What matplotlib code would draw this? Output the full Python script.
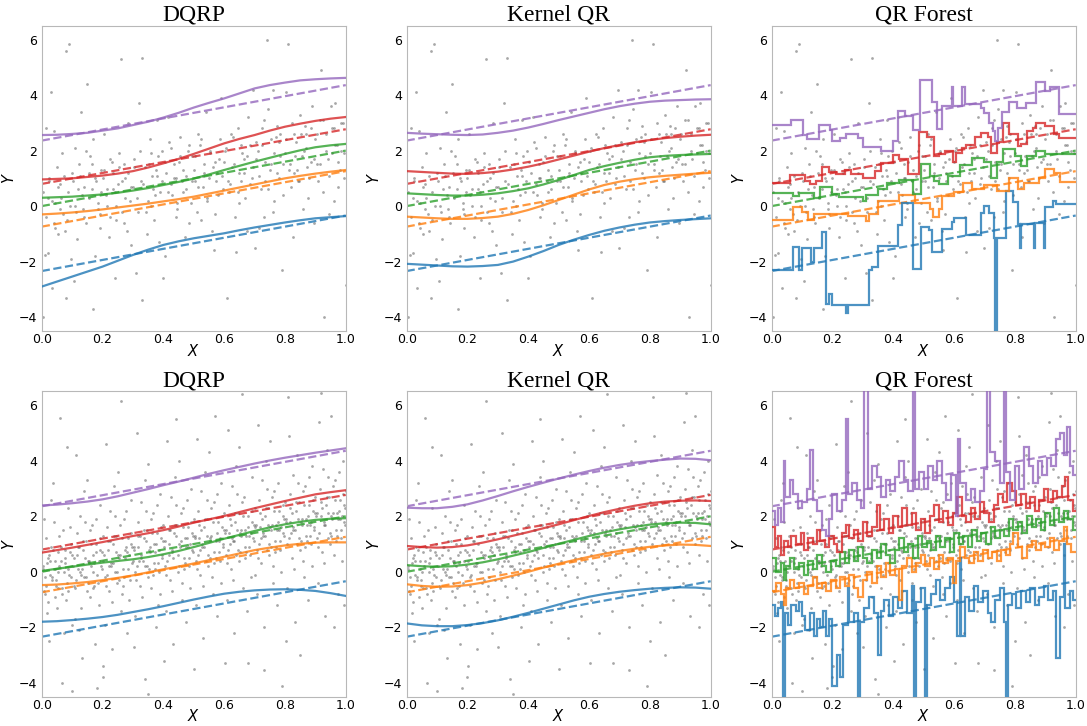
import matplotlib.pyplot as plt

colors = ['tab:blue', 'tab:orange', 'tab:green', 'tab:red', 'tab:purple']

# true quantile lines (straight), value at x=0 and x=1
true_at0 = [-2.34, -0.74, 0.0, 0.80, 2.36]
true_at1 = [-0.34, 1.26, 2.0, 2.77, 4.36]

curve_x = [0.0, 0.05, 0.1, 0.15, 0.2, 0.25, 0.3, 0.35, 0.4, 0.45, 0.5,
           0.55, 0.6, 0.65, 0.7, 0.75, 0.8, 0.85, 0.9, 0.95, 1.0]

# estimated curves, order: blue, orange, green, red, purple
dqrp_top = [
    [-2.90, -2.72, -2.54, -2.36, -2.18, -1.97, -1.76, -1.57, -1.40, -1.27, -1.16,
     -1.07, -0.98, -0.87, -0.77, -0.68, -0.59, -0.51, -0.44, -0.40, -0.36],
    [-0.30, -0.27, -0.23, -0.18, -0.12, -0.05, 0.02, 0.09, 0.17, 0.25, 0.34,
     0.45, 0.56, 0.67, 0.78, 0.89, 1.00, 1.09, 1.17, 1.24, 1.30],
    [0.30, 0.32, 0.34, 0.38, 0.42, 0.48, 0.56, 0.65, 0.76, 0.87, 0.99,
     1.14, 1.30, 1.45, 1.60, 1.74, 1.88, 2.01, 2.12, 2.19, 2.24],
    [0.96, 0.98, 1.00, 1.05, 1.10, 1.17, 1.26, 1.39, 1.54, 1.70, 1.88,
     2.07, 2.26, 2.42, 2.56, 2.72, 2.86, 2.97, 3.07, 3.15, 3.21],
    [2.56, 2.57, 2.60, 2.64, 2.72, 2.80, 2.92, 3.04, 3.19, 3.36, 3.55,
     3.72, 3.88, 4.06, 4.24, 4.36, 4.45, 4.53, 4.57, 4.60, 4.62],
]
kernel_top = [
    [-2.08, -2.11, -2.14, -2.17, -2.18, -2.16, -2.12, -2.00, -1.82, -1.62, -1.40,
     -1.21, -1.04, -0.89, -0.77, -0.67, -0.59, -0.54, -0.50, -0.47, -0.44],
    [-0.38, -0.41, -0.44, -0.46, -0.46, -0.43, -0.38, -0.28, -0.14, 0.03, 0.22,
     0.41, 0.60, 0.76, 0.88, 0.97, 1.04, 1.09, 1.13, 1.17, 1.20],
    [0.46, 0.43, 0.40, 0.38, 0.38, 0.41, 0.46, 0.54, 0.64, 0.78, 0.94,
     1.12, 1.30, 1.44, 1.56, 1.67, 1.76, 1.81, 1.84, 1.86, 1.88],
    [1.26, 1.23, 1.20, 1.17, 1.16, 1.19, 1.24, 1.32, 1.42, 1.54, 1.68,
     1.82, 1.96, 2.09, 2.20, 2.30, 2.38, 2.45, 2.50, 2.54, 2.57],
    [2.64, 2.61, 2.59, 2.57, 2.56, 2.58, 2.64, 2.72, 2.83, 2.96, 3.10,
     3.23, 3.36, 3.49, 3.60, 3.69, 3.76, 3.80, 3.82, 3.84, 3.85],
]
dqrp_bottom = [
    [-1.80, -1.78, -1.74, -1.69, -1.63, -1.55, -1.45, -1.35, -1.24, -1.12, -1.00,
     -0.89, -0.79, -0.72, -0.67, -0.64, -0.63, -0.65, -0.69, -0.77, -0.87],
    [-0.48, -0.46, -0.42, -0.37, -0.30, -0.22, -0.13, -0.02, 0.09, 0.19, 0.30,
     0.42, 0.54, 0.66, 0.78, 0.87, 0.95, 1.01, 1.05, 1.06, 1.06],
    [0.03, 0.11, 0.18, 0.26, 0.33, 0.39, 0.45, 0.53, 0.63, 0.75, 0.89,
     1.04, 1.19, 1.33, 1.47, 1.60, 1.71, 1.80, 1.87, 1.91, 1.93],
    [0.69, 0.78, 0.87, 0.97, 1.07, 1.18, 1.29, 1.39, 1.50, 1.63, 1.77,
     1.89, 2.01, 2.15, 2.29, 2.42, 2.55, 2.67, 2.79, 2.87, 2.94],
    [2.39, 2.42, 2.47, 2.53, 2.61, 2.72, 2.85, 2.98, 3.12, 3.25, 3.39,
     3.53, 3.66, 3.78, 3.90, 4.01, 4.11, 4.20, 4.29, 4.37, 4.45],
]
kernel_bottom = [
    [-1.86, -1.93, -1.96, -1.96, -1.92, -1.85, -1.75, -1.62, -1.48, -1.33, -1.18,
     -1.03, -0.90, -0.80, -0.72, -0.66, -0.61, -0.58, -0.56, -0.57, -0.61],
    [-0.45, -0.51, -0.54, -0.53, -0.48, -0.39, -0.27, -0.14, 0.00, 0.15, 0.29,
     0.42, 0.54, 0.65, 0.75, 0.83, 0.90, 0.95, 0.98, 0.97, 0.93],
    [0.24, 0.20, 0.18, 0.20, 0.26, 0.34, 0.45, 0.58, 0.71, 0.86, 1.01,
     1.15, 1.29, 1.42, 1.53, 1.62, 1.70, 1.75, 1.77, 1.76, 1.71],
    [0.93, 0.89, 0.87, 0.89, 0.95, 1.05, 1.17, 1.30, 1.43, 1.57, 1.71,
     1.86, 2.01, 2.15, 2.27, 2.38, 2.47, 2.53, 2.56, 2.57, 2.55],
    [2.31, 2.29, 2.29, 2.34, 2.43, 2.57, 2.73, 2.90, 3.06, 3.21, 3.36,
     3.50, 3.63, 3.75, 3.85, 3.93, 3.99, 4.04, 4.08, 4.07, 4.02],
]

# QR forest step functions: (start x, value)
forest_top = [
    [(0, -2.32), (0.07, -1.48), (0.09, -2.3), (0.1, -1.5), (0.13, -2.0), (0.14, -1.5),
     (0.165, -0.95), (0.18, -3.52), (0.19, -3.17), (0.2, -3.56), (0.245, -3.85),
     (0.252, -3.56), (0.32, -2.3), (0.33, -2.2), (0.35, -1.43), (0.415, -0.68),
     (0.43, 0.12), (0.464, -2.25), (0.49, -0.75), (0.516, -0.85), (0.527, -1.64),
     (0.56, -0.84), (0.594, -0.56), (0.6, -0.44), (0.64, -1.04), (0.687, -0.25),
     (0.70, 0.0), (0.715, -0.25), (0.73, -1.15), (0.734, -4.6), (0.74, -1.15),
     (0.77, 0.54), (0.795, 0.15), (0.81, -0.64), (0.816, -1.5), (0.821, -0.64),
     (0.862, -1.5), (0.867, -0.6), (0.895, -1.5), (0.899, -0.02), (0.924, 0.19),
     (0.935, 0.07)],
    [(0, -0.5), (0.07, -0.04), (0.1, -0.2), (0.12, -0.5), (0.14, -0.3), (0.2, -0.28),
     (0.25, -0.35), (0.31, -0.55), (0.32, -0.3), (0.35, 0.2), (0.42, 0.4), (0.47, 0.1),
     (0.52, -0.1), (0.53, -0.4), (0.55, -0.1), (0.56, 0.35), (0.6, 0.5), (0.63, 0.82),
     (0.66, 0.6), (0.7, 0.75), (0.74, 0.55), (0.78, 1.0), (0.81, 0.6), (0.83, 0.85),
     (0.88, 1.0), (0.9, 1.32), (0.93, 1.2), (0.95, 0.88)],
    [(0, 0.48), (0.07, 0.35), (0.09, 0.48), (0.14, 0.3), (0.16, 0.68), (0.2, 0.45),
     (0.22, 0.34), (0.3, 0.2), (0.31, 0.4), (0.35, 0.6), (0.38, 0.82), (0.42, 0.93),
     (0.465, 0.45), (0.49, 1.5), (0.52, 1.1), (0.535, 0.9), (0.55, 0.8), (0.58, 1.1),
     (0.62, 1.48), (0.66, 1.72), (0.7, 1.6), (0.72, 1.0), (0.74, 1.6), (0.76, 2.04),
     (0.8, 1.8), (0.82, 1.45), (0.84, 1.8), (0.87, 2.0), (0.9, 1.88)],
    [(0, 0.84), (0.06, 1.12), (0.11, 0.92), (0.125, 0.78), (0.145, 0.92), (0.165, 1.42),
     (0.19, 1.22), (0.21, 1.15), (0.24, 1.3), (0.26, 1.16), (0.3, 1.0), (0.34, 1.25),
     (0.36, 1.55), (0.4, 1.84), (0.42, 1.7), (0.45, 1.15), (0.485, 2.68), (0.51, 2.5),
     (0.535, 1.8), (0.55, 1.88), (0.57, 2.0), (0.595, 1.6), (0.605, 1.9), (0.625, 2.1),
     (0.64, 2.2), (0.67, 2.5), (0.69, 2.62), (0.71, 2.5), (0.72, 1.9), (0.74, 2.3),
     (0.76, 3.0), (0.78, 2.6), (0.81, 2.15), (0.82, 2.25), (0.84, 2.7), (0.86, 2.8),
     (0.87, 2.98), (0.90, 2.9), (0.93, 2.6), (0.945, 2.44)],
    [(0, 2.92), (0.063, 3.1), (0.102, 2.56), (0.115, 2.4), (0.157, 2.94), (0.192, 2.74),
     (0.2, 2.35), (0.225, 2.45), (0.243, 2.6), (0.283, 2.45), (0.3, 2.14), (0.36, 1.99),
     (0.40, 2.35), (0.417, 3.42), (0.44, 3.25), (0.465, 2.74), (0.489, 4.56),
     (0.527, 3.76), (0.545, 2.76), (0.56, 3.62), (0.592, 4.3), (0.598, 3.62),
     (0.626, 4.3), (0.637, 3.68), (0.687, 3.55), (0.70, 3.35), (0.715, 3.0),
     (0.728, 2.7), (0.736, 2.35), (0.745, 2.8), (0.757, 3.4), (0.78, 3.75),
     (0.808, 3.55), (0.835, 3.7), (0.868, 4.47), (0.898, 4.15), (0.917, 4.3),
     (0.945, 3.33)],
]

forest_bottom = [
    [(0, -1.2), (0.01, -1.6), (0.02, -1.3), (0.03, -1.1), (0.038, -4.6), (0.044, -1.5),
     (0.055, -1.9), (0.065, -1.2), (0.08, -1.4), (0.09, -1.1), (0.1, -1.6), (0.11, -2.1),
     (0.125, -1.5), (0.14, -2.3), (0.15, -1.7), (0.16, -2.0), (0.17, -1.4), (0.18, -2.3),
     (0.19, -1.7), (0.2, -4.1), (0.215, -3.0), (0.225, -3.8), (0.235, -1.9), (0.25, -0.6),
     (0.256, -1.8), (0.27, -1.5), (0.285, -4.6), (0.29, -1.8), (0.305, -1.3), (0.32, -0.9),
     (0.335, -1.5), (0.35, -3.0), (0.358, -1.4), (0.37, -1.0), (0.385, -1.6), (0.4, -0.9),
     (0.415, -1.3), (0.43, -0.7), (0.445, -1.5), (0.46, -0.5), (0.468, -4.6), (0.474, -1.1),
     (0.49, -0.6), (0.505, -4.6), (0.51, -1.2), (0.525, -0.8), (0.54, -0.3), (0.555, -1.0),
     (0.57, -0.6), (0.585, -0.2), (0.6, -1.1), (0.61, -2.3), (0.618, 0.5), (0.623, -2.3),
     (0.635, -0.9), (0.65, -1.4), (0.665, -0.5), (0.68, -1.1), (0.695, -0.7), (0.71, -1.5),
     (0.72, -1.8), (0.735, -1.0), (0.75, -0.6), (0.765, -1.8), (0.772, -4.6), (0.778, -1.2),
     (0.79, -0.8), (0.805, -1.3), (0.82, -0.7), (0.835, -1.1), (0.85, -0.6), (0.865, -1.2),
     (0.88, -0.9), (0.895, -0.5), (0.91, -1.0), (0.925, -0.7), (0.935, -3.1), (0.95, -0.9),
     (0.96, 1.0), (0.965, -1.3), (0.98, -0.7), (0.99, -1.0)],
    [(0, -0.7), (0.015, -0.4), (0.03, -0.8), (0.04, -1.2), (0.048, -0.6), (0.06, -0.3),
     (0.075, -0.6), (0.09, -0.4), (0.105, -0.8), (0.12, -0.5), (0.135, -0.2), (0.15, -0.6),
     (0.165, -0.4), (0.18, -0.7), (0.195, -0.3), (0.21, -0.6), (0.225, -0.2), (0.24, -0.5),
     (0.255, -0.1), (0.27, -0.6), (0.285, -0.9), (0.3, -0.3), (0.315, 0.0), (0.33, -0.4),
     (0.345, 0.2), (0.36, -0.2), (0.375, 0.3), (0.39, -0.1), (0.405, 0.1), (0.42, -1.0),
     (0.43, 0.2), (0.445, 0.5), (0.46, 0.0), (0.475, 0.3), (0.49, 0.6), (0.505, 0.2),
     (0.52, 0.5), (0.535, 0.1), (0.55, 0.6), (0.565, 0.3), (0.58, 0.5), (0.595, -0.4),
     (0.605, 0.4), (0.62, 0.9), (0.635, 0.5), (0.65, 0.3), (0.665, 0.7), (0.68, 0.4),
     (0.695, 0.8), (0.71, 0.5), (0.725, 0.7), (0.74, 0.4), (0.755, 0.8), (0.77, 0.6),
     (0.785, 1.0), (0.795, 1.4), (0.81, 0.9), (0.825, 0.5), (0.84, 0.9), (0.855, 1.1),
     (0.87, 0.8), (0.885, 1.0), (0.9, 0.9), (0.915, 1.2), (0.93, 0.8), (0.945, 1.1),
     (0.96, 1.6), (0.972, 1.0), (0.985, 0.7)],
    [(0, 0.5), (0.015, 0.0), (0.03, 0.3), (0.04, -0.3), (0.048, 0.2), (0.06, 0.5),
     (0.075, 0.1), (0.09, 0.3), (0.105, -0.1), (0.12, 0.4), (0.135, 0.1), (0.15, 0.6),
     (0.165, 0.2), (0.18, 0.0), (0.195, 0.4), (0.21, 0.2), (0.225, 0.7), (0.24, 0.3),
     (0.255, 0.8), (0.27, 0.4), (0.285, 0.9), (0.3, 0.5), (0.315, 0.3), (0.33, 0.8),
     (0.345, 0.5), (0.36, 1.0), (0.375, 0.6), (0.39, 0.3), (0.405, 0.8), (0.42, 1.2),
     (0.435, 0.7), (0.45, 1.0), (0.465, 0.5), (0.48, 1.3), (0.495, 0.9), (0.51, 1.1),
     (0.525, 0.8), (0.54, 1.3), (0.555, 0.9), (0.57, 1.2), (0.585, 0.7), (0.6, 1.4),
     (0.615, 1.0), (0.63, 1.3), (0.645, 0.9), (0.66, 1.5), (0.675, 1.1), (0.69, 1.4),
     (0.705, 1.0), (0.72, 1.6), (0.735, 1.2), (0.75, 1.5), (0.765, 1.3), (0.78, 1.9),
     (0.795, 1.5), (0.81, 1.8), (0.825, 1.4), (0.84, 2.0), (0.855, 1.6), (0.87, 1.9),
     (0.885, 1.5), (0.9, 2.1), (0.915, 1.7), (0.93, 2.3), (0.945, 1.8), (0.96, 2.2),
     (0.975, 1.9), (0.99, 1.5)],
    [(0, 1.6), (0.01, 0.9), (0.02, 1.3), (0.03, 0.6), (0.04, 1.1), (0.055, 0.9),
     (0.065, 1.3), (0.08, 1.0), (0.095, 1.4), (0.105, 0.8), (0.12, 1.2), (0.135, 1.0),
     (0.15, 1.5), (0.16, 1.1), (0.175, 0.9), (0.19, 1.3), (0.205, 1.0), (0.215, 0.7),
     (0.23, 1.4), (0.245, 1.7), (0.255, 1.2), (0.27, 1.5), (0.285, 1.1), (0.3, 1.8),
     (0.315, 1.3), (0.33, 1.6), (0.345, 2.4), (0.355, 1.5), (0.37, 1.9), (0.385, 1.4),
     (0.4, 2.0), (0.415, 1.6), (0.43, 2.3), (0.445, 1.7), (0.46, 2.1), (0.475, 1.5),
     (0.49, 1.9), (0.505, 1.4), (0.52, 2.0), (0.535, 2.4), (0.55, 1.8), (0.565, 2.2),
     (0.58, 1.7), (0.595, 2.1), (0.61, 2.7), (0.625, 2.0), (0.64, 1.8), (0.655, 2.3),
     (0.67, 1.9), (0.685, 2.5), (0.7, 2.1), (0.715, 1.8), (0.73, 2.4), (0.745, 2.8),
     (0.76, 2.5), (0.775, 3.2), (0.79, 2.9), (0.805, 2.4), (0.82, 2.8), (0.835, 2.3),
     (0.85, 2.7), (0.865, 2.2), (0.88, 2.6), (0.895, 3.0), (0.91, 2.5), (0.925, 2.9),
     (0.94, 2.7), (0.955, 3.1), (0.965, 3.4), (0.975, 2.6), (0.99, 2.2)],
    [(0, 2.2), (0.01, 1.7), (0.02, 2.3), (0.03, 1.8), (0.04, 4.0), (0.045, 2.7),
     (0.06, 3.3), (0.07, 2.8), (0.085, 2.3), (0.1, 2.5), (0.115, 3.0), (0.125, 4.4),
     (0.135, 2.6), (0.15, 2.2), (0.165, 1.5), (0.18, 1.3), (0.19, 1.9), (0.2, 2.8),
     (0.215, 2.2), (0.23, 2.6), (0.245, 5.5), (0.25, 2.8), (0.265, 3.2), (0.28, 2.6),
     (0.295, 2.3), (0.305, 7.0), (0.318, 3.0), (0.33, 3.8), (0.345, 3.4), (0.36, 2.7),
     (0.375, 3.3), (0.39, 2.9), (0.405, 3.4), (0.42, 4.0), (0.435, 3.3), (0.45, 2.9),
     (0.465, 7.0), (0.472, 3.0), (0.485, 3.6), (0.5, 3.0), (0.515, 3.8), (0.53, 3.3),
     (0.545, 4.0), (0.56, 3.2), (0.575, 2.6), (0.59, 3.5), (0.605, 2.0), (0.612, 4.8),
     (0.62, 3.2), (0.64, 2.6), (0.655, 3.0), (0.67, 2.5), (0.685, 2.9), (0.7, 3.7),
     (0.707, 7.0), (0.718, 4.3), (0.735, 4.0), (0.75, 3.2), (0.765, 6.5), (0.772, 3.6),
     (0.785, 2.6), (0.8, 3.8), (0.815, 3.0), (0.83, 4.5), (0.845, 3.8), (0.86, 3.2),
     (0.875, 4.0), (0.89, 3.5), (0.905, 4.1), (0.92, 3.8), (0.935, 4.8), (0.95, 5.0),
     (0.96, 4.2), (0.97, 5.2), (0.98, 3.8), (0.99, 3.5)],
]

# observed samples for the top row
top_points = [
    (0.01, -1.75), (0.02, 0.3), (0.03, 4.1), (0.04, -0.6), (0.05, 1.4), (0.06, 0.8), (0.07, -0.3),
    (0.08, 5.6), (0.09, 5.85), (0.02, -1.7), (0.035, -2.95), (0.005, -4.0), (0.045, 0.1),
    (0.055, -1.0), (0.065, 1.9), (0.075, -0.9), (0.085, 0.5), (0.095, -1.9), (0.015, 2.8),
    (0.025, 0.9), (0.06, -0.1), (0.08, -3.3), (0.1, 1.2), (0.04, 2.7),
    (0.004, 0.5), (0.014, -0.4), (0.024, 1.0), (0.034, 0.2), (0.044, -0.8), (0.054, 0.7),
    (0.064, 0.3), (0.074, 1.1), (0.084, -0.5), (0.094, 0.0),
    (0.105, -2.7), (0.11, 2.1), (0.12, 0.6), (0.13, 3.4), (0.14, -0.4), (0.15, 4.4), (0.16, 1.8),
    (0.17, -3.7), (0.18, 0.9), (0.19, -0.8), (0.115, -1.2), (0.125, 1.1), (0.135, -0.1),
    (0.145, 2.0), (0.155, 0.3), (0.165, 1.5), (0.175, -1.8), (0.185, 0.1), (0.195, 1.3),
    (0.11, 0.0), (0.14, 0.7), (0.17, 2.4), (0.19, -0.3),
    (0.104, 0.9), (0.114, -0.2), (0.124, 1.5), (0.134, 0.4), (0.144, -0.6), (0.154, 1.2),
    (0.164, 0.6), (0.174, 1.0), (0.184, -0.1), (0.194, 0.5),
    (0.2, 1.0), (0.21, 0.4), (0.22, -1.1), (0.23, 1.6), (0.24, -2.6), (0.25, 0.8), (0.26, 5.3),
    (0.27, 1.5), (0.28, -0.9), (0.29, 0.2), (0.205, 2.6), (0.215, 0.6), (0.225, -0.4),
    (0.235, 1.2), (0.245, 0.0), (0.255, 1.9), (0.265, -0.2), (0.275, 1.0), (0.285, 3.0),
    (0.295, -1.4), (0.24, 0.5), (0.27, -0.6),
    (0.204, 1.3), (0.214, 0.0), (0.224, 1.7), (0.234, 0.6), (0.244, -0.5), (0.254, 1.4),
    (0.264, 0.9), (0.274, 0.3), (0.284, 1.2), (0.294, 0.7),
    (0.3, 0.7), (0.31, -2.4), (0.32, 3.7), (0.33, 5.35), (0.33, -3.4), (0.34, 1.4), (0.35, 0.2),
    (0.36, 1.9), (0.37, -0.5), (0.38, 1.1), (0.39, 0.5), (0.305, 1.7), (0.315, -0.2),
    (0.325, 0.9), (0.345, -1.0), (0.355, 2.4), (0.365, 0.6), (0.375, 1.3), (0.385, -1.3),
    (0.395, 2.0), (0.36, 0.0), (0.38, 3.1),
    (0.304, 1.4), (0.314, 0.3), (0.324, 2.0), (0.334, 0.8), (0.344, -0.2), (0.354, 1.5),
    (0.364, 1.1), (0.374, 0.4), (0.384, 1.8), (0.394, 0.9),
    (0.4, -2.6), (0.41, 1.2), (0.42, 2.3), (0.43, 0.4), (0.44, -0.4), (0.45, 1.6), (0.46, 0.9),
    (0.47, -1.1), (0.48, 2.0), (0.49, 0.1), (0.405, -1.8), (0.415, 3.2), (0.425, 0.8),
    (0.435, 1.5), (0.445, -0.1), (0.455, 2.5), (0.465, 0.5), (0.475, 1.1), (0.485, -0.6),
    (0.495, 1.8), (0.44, 1.0),
    (0.404, 1.6), (0.414, 0.5), (0.424, 2.1), (0.434, 1.0), (0.444, 0.1), (0.454, 1.8),
    (0.464, 1.3), (0.474, 0.6), (0.484, 2.2), (0.494, 0.9),
    (0.5, 1.3), (0.51, -0.2), (0.52, 2.2), (0.53, 0.7), (0.54, 3.4), (0.55, 1.0), (0.56, -0.9),
    (0.57, 1.6), (0.58, 0.4), (0.59, 3.9), (0.505, 0.9), (0.515, 2.6), (0.525, -0.5),
    (0.535, 1.5), (0.545, 0.2), (0.555, 1.9), (0.565, -1.6), (0.575, 1.2), (0.585, 2.4),
    (0.595, 0.6), (0.53, 1.1), (0.57, -0.3),
    (0.504, 1.8), (0.514, 0.7), (0.524, 2.4), (0.534, 1.2), (0.544, 0.3), (0.554, 2.0),
    (0.564, 1.4), (0.574, 0.9), (0.584, 1.7), (0.594, 1.1),
    (0.6, 1.6), (0.61, -3.3), (0.62, 0.8), (0.63, 2.5), (0.64, -1.65), (0.65, 1.2), (0.66, 1.9),
    (0.67, 0.3), (0.68, 3.2), (0.69, 1.0), (0.605, 2.1), (0.615, 0.5), (0.625, 1.4),
    (0.635, -0.4), (0.645, 2.8), (0.655, 0.9), (0.665, 1.7), (0.675, -0.9), (0.685, 2.2),
    (0.695, 4.2), (0.7, -1.5), (0.65, 0.1),
    (0.604, 2.0), (0.614, 0.9), (0.624, 2.6), (0.634, 1.5), (0.644, 0.5), (0.654, 2.2),
    (0.664, 1.2), (0.674, 1.8), (0.684, 0.8), (0.694, 1.4),
    (0.71, 2.0), (0.72, 0.6), (0.73, 3.1), (0.74, 6.0), (0.75, 1.3), (0.76, -0.2), (0.77, 2.5),
    (0.78, 1.0), (0.79, -2.3), (0.705, 1.7), (0.715, -0.8), (0.725, 2.2), (0.735, 0.9),
    (0.745, 3.5), (0.755, 1.5), (0.765, 0.2), (0.775, 2.9), (0.785, 1.8), (0.795, 0.4),
    (0.73, -0.4), (0.76, 4.2), (0.78, 2.3),
    (0.704, 2.3), (0.714, 1.1), (0.724, 2.8), (0.734, 1.6), (0.744, 0.6), (0.754, 2.4),
    (0.764, 1.9), (0.774, 1.2), (0.784, 2.6), (0.794, 1.5),
    (0.8, 1.9), (0.81, 5.85), (0.82, 0.7), (0.83, 2.6), (0.84, 1.3), (0.85, 3.3), (0.86, -0.1),
    (0.87, 2.1), (0.88, 1.0), (0.89, 3.6), (0.805, 4.1), (0.815, 1.5), (0.825, -1.1),
    (0.835, 2.3), (0.845, 0.9), (0.855, 1.8), (0.865, 2.9), (0.875, 0.3), (0.885, 1.6),
    (0.895, -0.6), (0.83, 1.2), (0.87, 2.6),
    (0.804, 2.4), (0.814, 1.3), (0.824, 3.0), (0.834, 1.8), (0.844, 0.9), (0.854, 2.6),
    (0.864, 2.0), (0.874, 1.4), (0.884, 2.8), (0.894, 1.7),
    (0.9, 2.4), (0.91, 0.9), (0.92, 4.9), (0.93, -4.0), (0.94, 1.7), (0.95, 3.6), (0.96, 0.2),
    (0.97, 2.2), (0.98, 1.3), (0.99, 3.0), (1.0, -2.85), (0.905, 1.5), (0.915, 3.1),
    (0.925, 0.5), (0.935, 2.6), (0.945, -0.3), (0.955, 1.9), (0.965, 3.7), (0.975, 0.7),
    (0.985, 2.0), (0.995, 1.0), (0.96, 2.8),
    (0.904, 2.6), (0.914, 1.5), (0.924, 3.1), (0.934, 2.0), (0.944, 1.1), (0.954, 2.8),
    (0.964, 2.2), (0.974, 1.6), (0.984, 3.0), (0.994, 1.9),
]

# observed samples for the bottom row
bottom_points = [
    (0.005, 0.2), (0.01, -0.8), (0.015, 1.2), (0.02, 0.5), (0.025, -2.5), (0.03, 0.9), (0.035, -0.3),
    (0.04, 1.8), (0.045, 0.1), (0.05, -1.3), (0.055, 0.7), (0.06, 5.55), (0.065, -0.6), (0.07, 1.5),
    (0.075, 0.3), (0.08, -1.0), (0.085, 2.3), (0.09, -0.1), (0.095, 1.0), (0.1, -1.9),
    (0.008, 1.9), (0.018, -1.5), (0.028, 0.4), (0.038, 3.2), (0.048, -0.5), (0.058, 1.3),
    (0.068, -4.0), (0.078, 0.8), (0.088, -0.7), (0.098, 0.6), (0.012, -0.2), (0.032, 2.6),
    (0.052, 0.0), (0.072, -2.2), (0.092, 1.6), (0.042, -0.9), (0.062, 0.4), (0.082, 4.5),
    (0.1, -4.3), (0.022, -1.1),
    (0.003, 0.1), (0.013, -0.5), (0.023, 0.6), (0.033, -0.2), (0.043, 0.4), (0.053, -0.6),
    (0.063, 0.9), (0.073, 0.0), (0.083, -0.4), (0.093, 0.7), (0.007, -0.7), (0.017, 0.3),
    (0.027, -0.1), (0.037, 0.8), (0.047, -0.3), (0.057, 0.2), (0.067, -0.8), (0.077, 0.5),
    (0.087, 0.1), (0.097, -0.2),
    (0.105, 0.5), (0.11, -0.6), (0.115, 1.4), (0.12, 0.1), (0.125, 2.0), (0.13, -1.3), (0.135, 0.8),
    (0.14, -0.2), (0.145, 1.1), (0.15, 3.3), (0.155, 0.3), (0.16, -0.9), (0.165, 1.7), (0.17, 0.6),
    (0.175, -2.6), (0.18, 1.0), (0.185, -0.4), (0.19, 2.4), (0.195, 0.2), (0.2, 1.3),
    (0.108, -1.7), (0.118, 0.9), (0.128, -0.1), (0.138, 2.9), (0.148, -0.7), (0.158, 1.5),
    (0.168, 0.0), (0.178, 1.9), (0.188, -1.2), (0.198, 0.7), (0.112, 4.2), (0.132, -3.1),
    (0.152, 0.4), (0.172, -0.5), (0.192, 1.2), (0.122, -2.1), (0.142, 1.8), (0.162, 0.2),
    (0.182, -4.2), (0.2, -3.8),
    (0.103, 0.2), (0.113, -0.3), (0.123, 0.9), (0.133, 0.1), (0.143, 0.5), (0.153, -0.4),
    (0.163, 1.0), (0.173, 0.3), (0.183, -0.1), (0.193, 0.8), (0.107, -0.5), (0.117, 0.6),
    (0.127, 0.0), (0.137, 1.1), (0.147, -0.2), (0.157, 0.4), (0.167, -0.6), (0.177, 0.7),
    (0.187, 0.4), (0.197, 0.1),
    (0.205, 0.6), (0.21, -0.5), (0.215, 1.6), (0.22, 0.2), (0.225, 2.2), (0.23, -1.1), (0.235, 1.0),
    (0.24, 0.0), (0.245, 1.3), (0.25, 3.6), (0.255, 0.5), (0.26, 6.15), (0.265, -0.8), (0.27, 1.9),
    (0.275, 0.8), (0.28, -2.2), (0.285, 1.2), (0.29, -0.3), (0.295, 2.6), (0.3, 0.4),
    (0.208, -1.9), (0.218, 1.1), (0.228, 0.3), (0.238, 3.1), (0.248, -0.4), (0.258, 1.7),
    (0.268, 0.1), (0.278, 2.2), (0.288, -1.0), (0.298, 0.9), (0.212, 4.6), (0.232, -2.8),
    (0.252, 0.6), (0.272, -0.2), (0.292, 1.4), (0.222, -0.7), (0.242, 2.0), (0.262, -1.4),
    (0.282, 0.7), (0.202, -3.4),
    (0.203, 0.4), (0.213, -0.1), (0.223, 1.1), (0.233, 0.3), (0.243, 0.7), (0.253, -0.3),
    (0.263, 1.2), (0.273, 0.5), (0.283, 0.1), (0.293, 1.0), (0.207, -0.2), (0.217, 0.8),
    (0.227, 0.2), (0.237, 1.3), (0.247, 0.0), (0.257, 0.6), (0.267, -0.5), (0.277, 0.9),
    (0.287, 0.6), (0.297, 0.3),
    (0.305, 0.9), (0.31, -0.3), (0.315, 1.8), (0.32, 0.4), (0.325, 2.5), (0.33, -0.9), (0.335, 1.2),
    (0.34, 0.2), (0.345, 1.5), (0.35, 3.9), (0.355, 0.7), (0.36, -0.6), (0.365, 2.1), (0.37, 1.0),
    (0.375, -2.0), (0.38, 1.4), (0.385, 0.0), (0.39, 2.8), (0.395, 0.6), (0.4, 1.7),
    (0.308, -1.6), (0.318, 1.3), (0.328, 0.5), (0.338, 3.3), (0.348, -0.2), (0.358, 1.9),
    (0.368, 0.3), (0.378, 2.4), (0.388, -0.8), (0.398, 1.1), (0.312, 5.0), (0.34, -3.85),
    (0.352, 0.8), (0.372, 0.1), (0.392, 1.6), (0.322, -0.5), (0.342, 2.2), (0.35, -4.4),
    (0.382, -1.2), (0.302, -2.7),
    (0.303, 0.8), (0.313, 0.2), (0.323, 1.3), (0.333, 0.4), (0.343, 1.1), (0.353, 0.1),
    (0.363, 1.4), (0.373, 0.7), (0.383, 0.3), (0.393, 1.2), (0.307, 0.0), (0.317, 0.9),
    (0.327, 0.6), (0.337, 1.5), (0.347, 0.2), (0.357, 0.9), (0.367, -0.1), (0.377, 1.0),
    (0.387, 0.8), (0.397, 0.5),
    (0.405, 1.1), (0.41, -0.1), (0.415, 2.0), (0.42, 0.6), (0.425, 2.7), (0.43, -0.7), (0.435, 1.4),
    (0.44, 5.5), (0.445, 1.7), (0.45, 4.0), (0.455, 0.9), (0.46, -0.4), (0.465, 2.3), (0.47, 1.2),
    (0.475, -1.8), (0.48, 1.6), (0.485, 0.2), (0.49, 3.0), (0.495, 0.8), (0.5, 1.9),
    (0.408, -1.4), (0.418, 1.5), (0.428, 0.7), (0.438, 3.4), (0.448, 0.0), (0.458, 2.1),
    (0.468, 0.5), (0.478, 2.6), (0.488, -0.6), (0.498, 1.3), (0.412, 4.7), (0.432, -2.6),
    (0.452, 1.0), (0.472, 0.3), (0.492, 1.8), (0.422, -0.3), (0.442, 2.4), (0.462, -1.0),
    (0.482, 0.9), (0.402, -3.2),
    (0.403, 0.9), (0.413, 0.4), (0.423, 1.5), (0.433, 0.5), (0.443, 1.3), (0.453, 0.2),
    (0.463, 1.6), (0.473, 0.9), (0.483, 0.5), (0.493, 1.4), (0.407, 0.2), (0.417, 1.0),
    (0.427, 0.8), (0.437, 1.7), (0.447, 0.6), (0.457, 1.1), (0.467, 0.1), (0.477, 1.2),
    (0.487, 1.0), (0.497, 0.7),
    (0.505, 1.3), (0.51, 0.1), (0.515, 2.2), (0.52, 0.8), (0.525, 2.9), (0.53, -0.5), (0.535, 1.6),
    (0.54, 0.4), (0.545, 1.9), (0.55, 4.3), (0.555, 1.1), (0.56, -0.2), (0.565, 2.5), (0.57, 5.6),
    (0.575, -1.6), (0.58, 1.8), (0.585, 0.4), (0.59, 3.2), (0.595, 1.0), (0.6, 2.1),
    (0.508, -1.2), (0.518, 1.7), (0.528, 0.9), (0.538, 3.6), (0.548, 0.2), (0.558, 2.3),
    (0.568, 0.7), (0.578, 2.8), (0.588, -0.4), (0.598, 1.5), (0.512, 4.8), (0.532, -2.4),
    (0.552, 1.2), (0.572, 0.5), (0.592, 2.0), (0.522, -0.1), (0.542, 2.6), (0.562, -0.8),
    (0.582, 1.1), (0.502, -3.5),
    (0.503, 1.2), (0.513, 0.6), (0.523, 1.5), (0.533, 0.9), (0.543, 1.3), (0.553, 0.5),
    (0.563, 1.8), (0.573, 1.1), (0.583, 0.7), (0.593, 1.6), (0.507, 0.4), (0.517, 1.2),
    (0.527, 1.0), (0.537, 1.9), (0.547, 0.6), (0.557, 1.3), (0.567, 0.3), (0.577, 1.4),
    (0.587, 1.2), (0.597, 0.9),
    (0.605, 1.5), (0.61, 0.3), (0.615, 2.4), (0.62, 1.0), (0.625, 3.1), (0.63, -0.3), (0.635, 1.8),
    (0.64, 0.6), (0.645, 2.1), (0.65, 4.5), (0.655, 1.3), (0.66, 6.4), (0.665, 2.7), (0.67, 1.5),
    (0.675, -1.4), (0.68, 2.0), (0.685, 0.6), (0.69, 3.4), (0.695, 1.2), (0.7, 2.3),
    (0.608, -1.0), (0.618, 1.9), (0.628, 1.1), (0.638, 3.8), (0.648, 0.4), (0.658, 2.5),
    (0.668, 0.9), (0.678, -3.3), (0.688, -0.2), (0.698, 1.7), (0.612, 5.1), (0.632, -2.2),
    (0.652, 1.4), (0.672, 0.7), (0.692, 2.2), (0.622, 0.1), (0.642, 2.8), (0.662, -0.6),
    (0.682, 1.3), (0.602, -3.3),
    (0.603, 1.4), (0.613, 0.8), (0.623, 1.7), (0.633, 1.1), (0.643, 1.5), (0.653, 0.7),
    (0.663, 2.0), (0.673, 1.3), (0.683, 0.9), (0.693, 1.8), (0.607, 0.6), (0.617, 1.4),
    (0.627, 1.2), (0.637, 2.1), (0.647, 0.8), (0.657, 1.5), (0.667, 0.5), (0.677, 1.6),
    (0.687, 1.4), (0.697, 1.1),
    (0.705, 1.7), (0.71, 0.5), (0.715, 2.6), (0.72, 1.2), (0.725, 3.3), (0.73, -3.55), (0.735, 2.0),
    (0.74, 0.8), (0.745, 2.3), (0.75, 4.7), (0.755, 1.5), (0.76, 0.2), (0.765, 2.9), (0.77, 1.7),
    (0.775, -1.2), (0.78, 2.2), (0.785, 0.8), (0.79, -4.1), (0.795, 1.4), (0.8, 2.5),
    (0.708, -0.8), (0.718, 2.1), (0.728, 1.3), (0.738, 4.0), (0.748, 0.6), (0.758, 2.7),
    (0.768, 1.1), (0.778, 3.2), (0.788, 0.0), (0.798, 1.9), (0.712, 5.3), (0.732, -2.0),
    (0.752, 1.6), (0.772, 0.9), (0.792, 2.4), (0.722, 0.3), (0.742, 3.0), (0.762, -0.4),
    (0.782, 1.5), (0.702, -0.1),
    (0.703, 1.6), (0.713, 1.0), (0.723, 1.9), (0.733, 1.3), (0.743, 1.7), (0.753, 0.9),
    (0.763, 2.2), (0.773, 1.5), (0.783, 1.1), (0.793, 2.0), (0.707, 0.8), (0.717, 1.6),
    (0.727, 1.4), (0.737, 2.3), (0.747, 1.0), (0.757, 1.7), (0.767, 0.7), (0.777, 1.8),
    (0.787, 1.6), (0.797, 1.3),
    (0.805, 1.9), (0.81, 6.3), (0.815, 2.8), (0.82, 1.4), (0.825, 3.5), (0.83, 0.1), (0.835, 2.2),
    (0.84, 1.0), (0.845, 2.5), (0.85, -3.0), (0.855, 1.7), (0.86, 0.4), (0.865, 3.1), (0.87, 1.9),
    (0.875, -1.0), (0.88, 2.4), (0.885, 1.0), (0.89, 3.8), (0.895, 1.6), (0.9, 2.7),
    (0.808, -0.6), (0.818, 2.3), (0.828, 1.5), (0.838, 4.2), (0.848, 0.8), (0.858, 2.9),
    (0.868, 1.3), (0.878, 3.4), (0.888, 0.2), (0.898, 2.1), (0.812, 4.9), (0.832, -1.8),
    (0.852, 1.8), (0.872, 1.1), (0.892, 2.6), (0.822, 0.5), (0.842, 3.2), (0.862, -0.2),
    (0.882, 1.7), (0.802, -2.5),
    (0.803, 1.8), (0.813, 1.2), (0.823, 2.1), (0.833, 1.5), (0.843, 1.9), (0.853, 1.1),
    (0.863, 2.4), (0.873, 1.7), (0.883, 1.3), (0.893, 2.2), (0.807, 1.0), (0.817, 1.8),
    (0.827, 1.6), (0.837, 2.5), (0.847, 1.2), (0.857, 1.9), (0.867, 0.9), (0.877, 2.0),
    (0.887, 1.8), (0.897, 1.5),
    (0.905, 2.1), (0.91, 0.9), (0.915, 3.0), (0.92, 6.45), (0.925, 3.7), (0.93, 0.3), (0.935, 2.4),
    (0.94, 1.2), (0.945, 2.7), (0.95, 5.6), (0.955, 1.9), (0.96, 0.6), (0.965, 3.3), (0.97, 2.1),
    (0.975, -0.8), (0.98, 2.6), (0.985, 1.2), (0.99, 4.0), (0.995, 1.8), (1.0, 2.9),
    (0.908, -0.4), (0.918, 2.5), (0.928, 1.7), (0.938, 4.4), (0.948, 1.0), (0.958, 3.1),
    (0.968, 1.5), (0.978, 3.6), (0.988, 0.4), (0.998, 2.3), (0.912, 5.4), (0.932, -1.6),
    (0.952, 2.0), (0.972, 1.3), (0.992, 2.8), (0.922, 0.7), (0.942, 3.4), (0.962, -2.0),
    (0.982, 1.9), (0.995, -1.2),
    (0.903, 2.0), (0.913, 1.4), (0.923, 2.3), (0.933, 1.7), (0.943, 2.1), (0.953, 1.3),
    (0.963, 2.6), (0.973, 1.9), (0.983, 1.5), (0.993, 2.4), (0.907, 1.2), (0.917, 2.0),
    (0.927, 1.8), (0.937, 2.7), (0.947, 1.4), (0.957, 2.1), (0.967, 1.1), (0.977, 2.2),
    (0.987, 2.0), (0.997, 1.7),
]

titles = ['DQRP', 'Kernel QR', 'QR Forest']

fig = plt.figure(figsize=(10.87, 7.26), dpi=100)
lefts = [0.0384, 0.3741, 0.7099]
bottoms = [0.5441, 0.0404]
w, h = 0.2797, 0.4205

rows = [(top_points, dqrp_top, kernel_top, forest_top),
        (bottom_points, dqrp_bottom, kernel_bottom, forest_bottom)]

for r, (pts, dqrp, kern, forest) in enumerate(rows):
    px = [p[0] for p in pts]
    py = [p[1] for p in pts]
    for c in range(3):
        ax = fig.add_axes([lefts[c], bottoms[r], w, h])
        ax.scatter(px, py, s=4, color='#606060', alpha=0.55, linewidths=0, zorder=1)
        for i in range(5):
            ax.plot([0, 1], [true_at0[i], true_at1[i]], '--', color=colors[i],
                    lw=1.6, alpha=0.8, zorder=2)
            if c == 0:
                ax.plot(curve_x, dqrp[i], color=colors[i], lw=1.6, alpha=0.8, zorder=3)
            elif c == 1:
                ax.plot(curve_x, kern[i], color=colors[i], lw=1.6, alpha=0.8, zorder=3)
            else:
                starts = [s[0] for s in forest[i]]
                vals = [s[1] for s in forest[i]]
                ax.stairs(vals, starts + [1.0], baseline=None, color=colors[i],
                          lw=1.6, alpha=0.8, zorder=3)
        ax.set_xlim(0, 1)
        ax.set_ylim(-4.5, 6.5)
        ax.set_xticks([0, 0.2, 0.4, 0.6, 0.8, 1.0])
        ax.set_yticks([-4, -2, 0, 2, 4, 6])
        ax.tick_params(length=0, labelsize=9)
        ax.tick_params(axis='x', pad=1.5)
        for sp in ax.spines.values():
            sp.set_color('#b8b8b8')
        ax.set_xlabel('$X$', fontsize=10.5, labelpad=-2.5)
        ax.set_ylabel('$Y$', fontsize=10.5, labelpad=1)
        ax.set_title(titles[c], fontsize=17, family='Liberation Serif', pad=3)

fig.savefig('out.png', dpi=100)
